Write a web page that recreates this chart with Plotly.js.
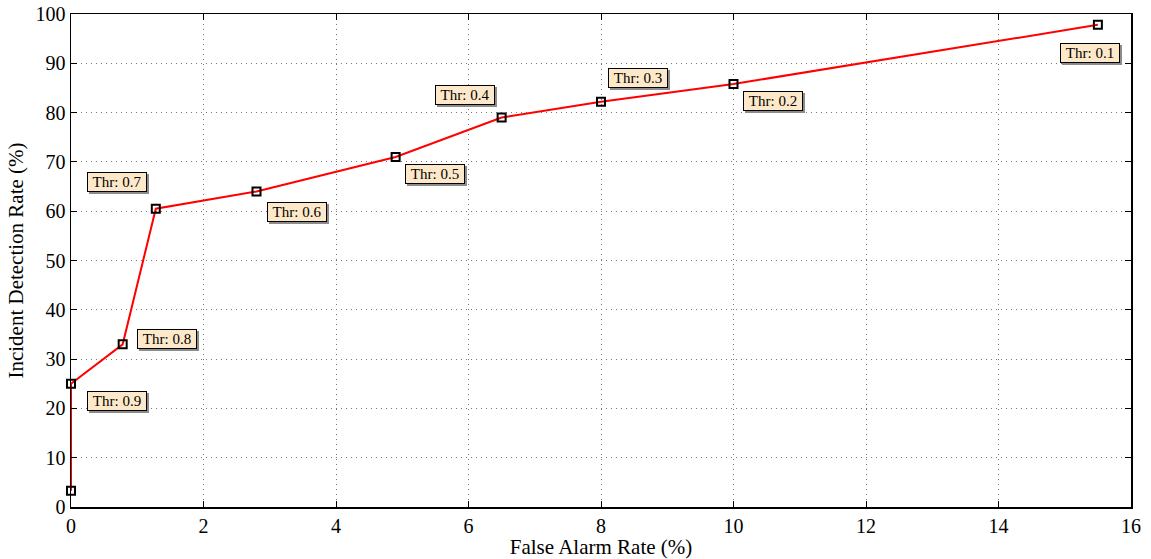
<!DOCTYPE html>
<html><head><meta charset="utf-8">
<script src="https://cdn.plot.ly/plotly-3.0.1.min.js"></script>
<style>body{margin:0;background:#fff}#c{width:1151px;height:559px}</style>
</head><body><div id="c"></div>
<script>
const falseAlarm = [0, 0, 0.78, 1.28, 2.8, 4.9, 6.5, 8.0, 10.0, 15.5];
const detection  = [3.3, 25, 33, 60.5, 64, 71, 79, 82.2, 85.8, 97.8];
const thrLabels  = [null, 'Thr: 0.9', 'Thr: 0.8', 'Thr: 0.7', 'Thr: 0.6', 'Thr: 0.5', 'Thr: 0.4', 'Thr: 0.3', 'Thr: 0.2', 'Thr: 0.1'];
const labelDx = [0, 46, 44, -39, 40, 39, -37, 37, 39, -8];
const labelDy = [0, -17, 5, 27, -21, -17, 23, 24, -17, -28];

const font = 'Liberation Serif, Times New Roman, serif';
const annotations = [];
thrLabels.forEach((t, i) => {
  if (!t) return;
  annotations.push({x: falseAlarm[i], y: detection[i], text: ' ', showarrow: false,
    xshift: labelDx[i] + 2, yshift: labelDy[i] - 2, width: 58, height: 18,
    bgcolor: '#8c8c8c', bordercolor: '#8c8c8c',
    borderwidth: 1, borderpad: 0, font: {family: font, size: 15, color: '#8c8c8c'}});
  annotations.push({x: falseAlarm[i], y: detection[i], text: t, showarrow: false,
    xshift: labelDx[i], yshift: labelDy[i], width: 58, height: 18,
    bgcolor: '#fde9c9', bordercolor: '#000',
    borderwidth: 1, borderpad: 0, font: {family: font, size: 15, color: '#000'}});
});

const axisCommon = {showline: true, linecolor: '#000', linewidth: 1.5, mirror: 'ticks',
  ticks: 'inside', ticklen: 6, tickwidth: 1, tickcolor: '#000',
  showgrid: true, gridcolor: '#777', griddash: '1px,4px', gridwidth: 1, zeroline: false,
  tickfont: {family: font, size: 20, color: '#000'}};

Plotly.newPlot('c', [{
  x: falseAlarm, y: detection, type: 'scatter', mode: 'lines+markers',
  line: {color: '#ff0000', width: 2},
  marker: {symbol: 'square-open', size: 8, color: '#000', line: {width: 2, color: '#000'}},
  hoverinfo: 'none', cliponaxis: false
}], {
  width: 1151, height: 559,
  margin: {l: 71, r: 20, t: 14, b: 52},
  paper_bgcolor: '#fff', plot_bgcolor: '#fff', showlegend: false,
  xaxis: Object.assign({}, axisCommon, {range: [0, 16], dtick: 2, tick0: 0,
    title: {text: 'False Alarm Rate (%)', font: {family: font, size: 21, color: '#000'}, standoff: 2}}),
  yaxis: Object.assign({}, axisCommon, {range: [0, 100], dtick: 10, tick0: 0,
    title: {text: 'Incident Detection Rate (%)', font: {family: font, size: 21, color: '#000'}, standoff: 6}}),
  annotations: annotations
}, {staticPlot: true});
</script></body></html>
